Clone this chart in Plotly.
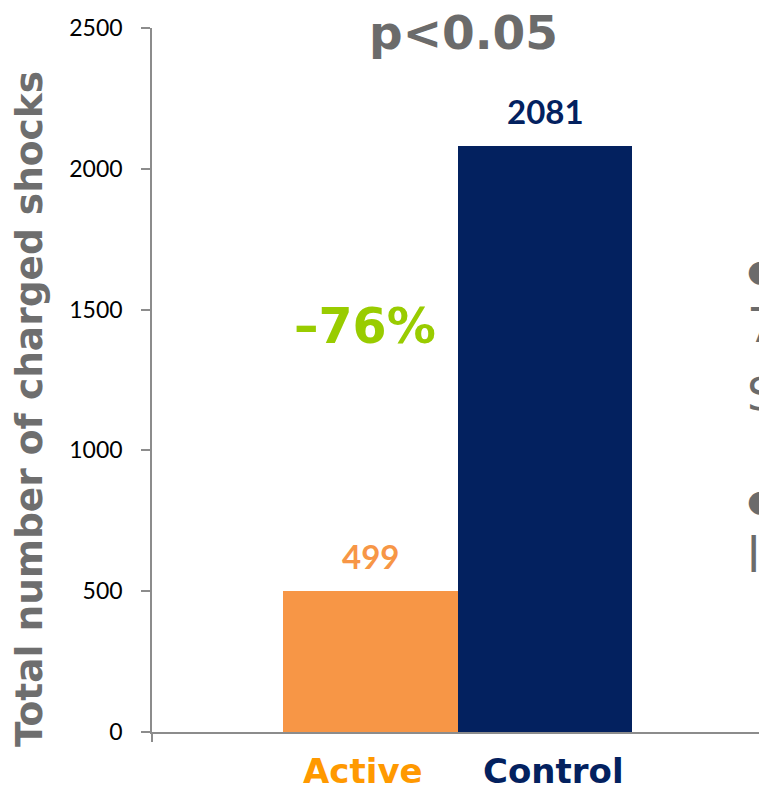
import plotly.graph_objects as go

# Data
categories = ["Active", "Control"]
shock_totals = [499, 2081]
reduction_label = "–76%"
p_value_label = "p<0.05"
y_tick_values = [0, 500, 1000, 1500, 2000, 2500]

bar_colors = ["#F79646", "#03215F"]
label_colors = ["#FF9900", "#03215F"]
value_colors = ["#F79646", "#03215F"]

W, H = 759, 792
M_L, M_R, M_T, M_B = 152, 0, 28, 60
PLOT_W = W - M_L - M_R
PLOT_H = H - M_T - M_B

# bar geometry in axis units: one unit = one bar width
UNIT_PX = 174.5
X0_PX = 370.5  # pixel centre of the first bar
x_lo = (M_L - X0_PX) / UNIT_PX
x_hi = (W - M_R - X0_PX) / UNIT_PX


def px(x):
    return (x - M_L) / PLOT_W


def py(y):
    return (H - M_B - y) / PLOT_H


xs = list(range(len(categories)))

fig = go.Figure()
for i, (cat, val) in enumerate(zip(categories, shock_totals)):
    fig.add_trace(go.Bar(
        x=[xs[i]], y=[val], width=1.0, name=cat,
        marker=dict(color=bar_colors[i], line=dict(width=0)),
        showlegend=False, hoverinfo="skip",
    ))

annotations = []

# value labels above the bars
for i, val in enumerate(shock_totals):
    annotations.append(dict(
        x=xs[i], y=val, xref="x", yref="y", text=f"<b>{val}</b>",
        showarrow=False, yshift=35, xanchor="center", yanchor="middle",
        font=dict(family="Lato", size=33, color=value_colors[i]),
    ))

# category labels under the axis
cat_centres = [363, 553.5]
for i, cat in enumerate(categories):
    annotations.append(dict(
        x=px(cat_centres[i]), y=py(771), xref="paper", yref="paper",
        text=f"<b>{cat}</b>", showarrow=False,
        xanchor="center", yanchor="middle",
        font=dict(family="DejaVu Sans", size=34, color=label_colors[i]),
    ))

# significance and reduction
annotations.append(dict(
    x=px(463), y=py(33), xref="paper", yref="paper",
    text=f"<b>{p_value_label}</b>", showarrow=False,
    xanchor="center", yanchor="middle",
    font=dict(family="DejaVu Sans", size=47, color="#6B6B6B"),
))
annotations.append(dict(
    x=px(365), y=py(326), xref="paper", yref="paper",
    text=f"<b>{reduction_label}</b>", showarrow=False,
    xanchor="center", yanchor="middle",
    font=dict(family="DejaVu Sans", size=49, color="#99CC00"),
))

# vertical axis title
annotations.append(dict(
    x=px(29), y=py(409), xref="paper", yref="paper",
    text="<b>Total number of charged shocks</b>", showarrow=False,
    textangle=-90, xanchor="center", yanchor="middle",
    font=dict(family="DejaVu Sans", size=37.5, color="#6E6E6E"),
))

# bullet text running off the right edge
side_lines = [
    ("●", 270, 30),
    ("76% fewer", 325, 48),
    ("Shocks", 395, 44),
    ("●", 500, 30),
    ("lower", 555, 48),
]
for txt, yc, fs in side_lines:
    annotations.append(dict(
        x=px(745), y=py(yc), xref="paper", yref="paper",
        text=txt, showarrow=False, xanchor="left", yanchor="middle",
        font=dict(family="DejaVu Sans", size=fs, color="#6B6B6B"),
    ))

fig.update_layout(
    width=W, height=H,
    margin=dict(l=M_L, r=M_R, t=M_T, b=M_B, pad=0),
    paper_bgcolor="white", plot_bgcolor="white",
    barmode="overlay", bargap=0,
    annotations=annotations,
    xaxis=dict(
        range=[x_lo, x_hi], showgrid=False, zeroline=False,
        showline=True, linecolor="#8C8C8C", linewidth=1.5,
        tickmode="array", tickvals=[x_lo], ticktext=[""],
        ticks="outside", ticklen=8, tickwidth=1.5, tickcolor="#8C8C8C",
        fixedrange=True,
    ),
    yaxis=dict(
        range=[0, 2500], showgrid=False, zeroline=False,
        showline=True, linecolor="#8C8C8C", linewidth=1.5,
        tickmode="array", tickvals=y_tick_values,
        ticks="outside", ticklen=9, tickwidth=1.5, tickcolor="#8C8C8C",
        ticklabelstandoff=14,
        tickfont=dict(family="Lato", size=23, color="#000000"),
        fixedrange=True,
    ),
)

fig.write_html("out.html", config={"displayModeBar": False})
